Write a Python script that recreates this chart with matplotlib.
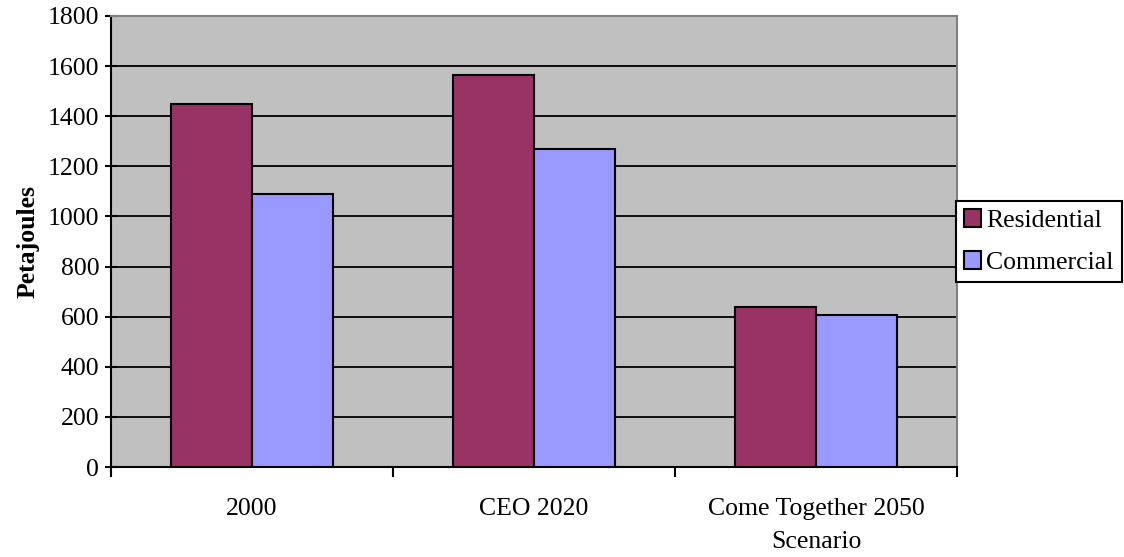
import matplotlib
matplotlib.use('Agg')
import matplotlib.pyplot as plt
import numpy as np

# Chart data
categories = ['2000', 'CEO 2020', 'Come Together 2050\nScenario']
residential = [1450, 1565, 640]
commercial = [1090, 1270, 608]
series_names = ['Residential', 'Commercial']
y_ticks = [0, 200, 400, 600, 800, 1000, 1200, 1400, 1600, 1800]

plt.rcParams['font.family'] = ['Liberation Serif', 'DejaVu Serif']

fig = plt.figure(figsize=(11.24, 5.57), dpi=100)
fig.patch.set_facecolor('white')
ax = fig.add_axes([111 / 1124, 90 / 557, 846 / 1124, 451 / 557])
ax.set_facecolor('#C0C0C0')

x = np.arange(len(categories))
width = 0.286
ax.bar(x - width / 2, residential, width, color='#993366', edgecolor='black',
       linewidth=1.5, label=series_names[0], zorder=3)
ax.bar(x + width / 2, commercial, width, color='#9999FF', edgecolor='black',
       linewidth=1.5, label=series_names[1], zorder=3)

ax.set_xlim(-0.5, len(categories) - 0.5)
ax.set_ylim(0, 1800)
ax.set_yticks(y_ticks)
ax.yaxis.grid(True, color='black', linewidth=1.3, zorder=1)
ax.set_axisbelow(True)

ax.set_xticks(x)
ax.set_xticklabels(categories, fontsize=18.5, linespacing=1.7)
ax.set_xticks(np.arange(len(categories) + 1) - 0.5, minor=True)
ax.tick_params(axis='x', which='major', length=0, pad=22)
ax.tick_params(axis='x', which='minor', length=7, width=1.5, direction='out')
ax.tick_params(axis='y', labelsize=18.5, direction='inout', length=9, width=1.5, pad=4)

for side in ['left', 'bottom']:
    ax.spines[side].set_color('black')
    ax.spines[side].set_linewidth(1.5)
for side in ['top', 'right']:
    ax.spines[side].set_color('#808080')
    ax.spines[side].set_linewidth(1.5)

ax.set_ylabel('Petajoules', fontsize=18.5, fontweight='bold', labelpad=6)

# title sits mostly above the canvas, only descenders show
fig.text(737 / 1124, 1 + 7 / 557, 'Building Sector Energy', ha='right',
         va='baseline', fontsize=20, fontweight='bold')

leg = fig.legend(loc='upper left', bbox_to_anchor=(956 / 1124, 1 - 201 / 557),
                 fontsize=18.5, frameon=True, fancybox=False, framealpha=1,
                 edgecolor='black', handlelength=0.65, handleheight=0.65,
                 handletextpad=0.2, borderpad=0.33, labelspacing=0.75,
                 borderaxespad=0)
leg.get_frame().set_linewidth(1.5)

fig.savefig('out.png', dpi=100)
